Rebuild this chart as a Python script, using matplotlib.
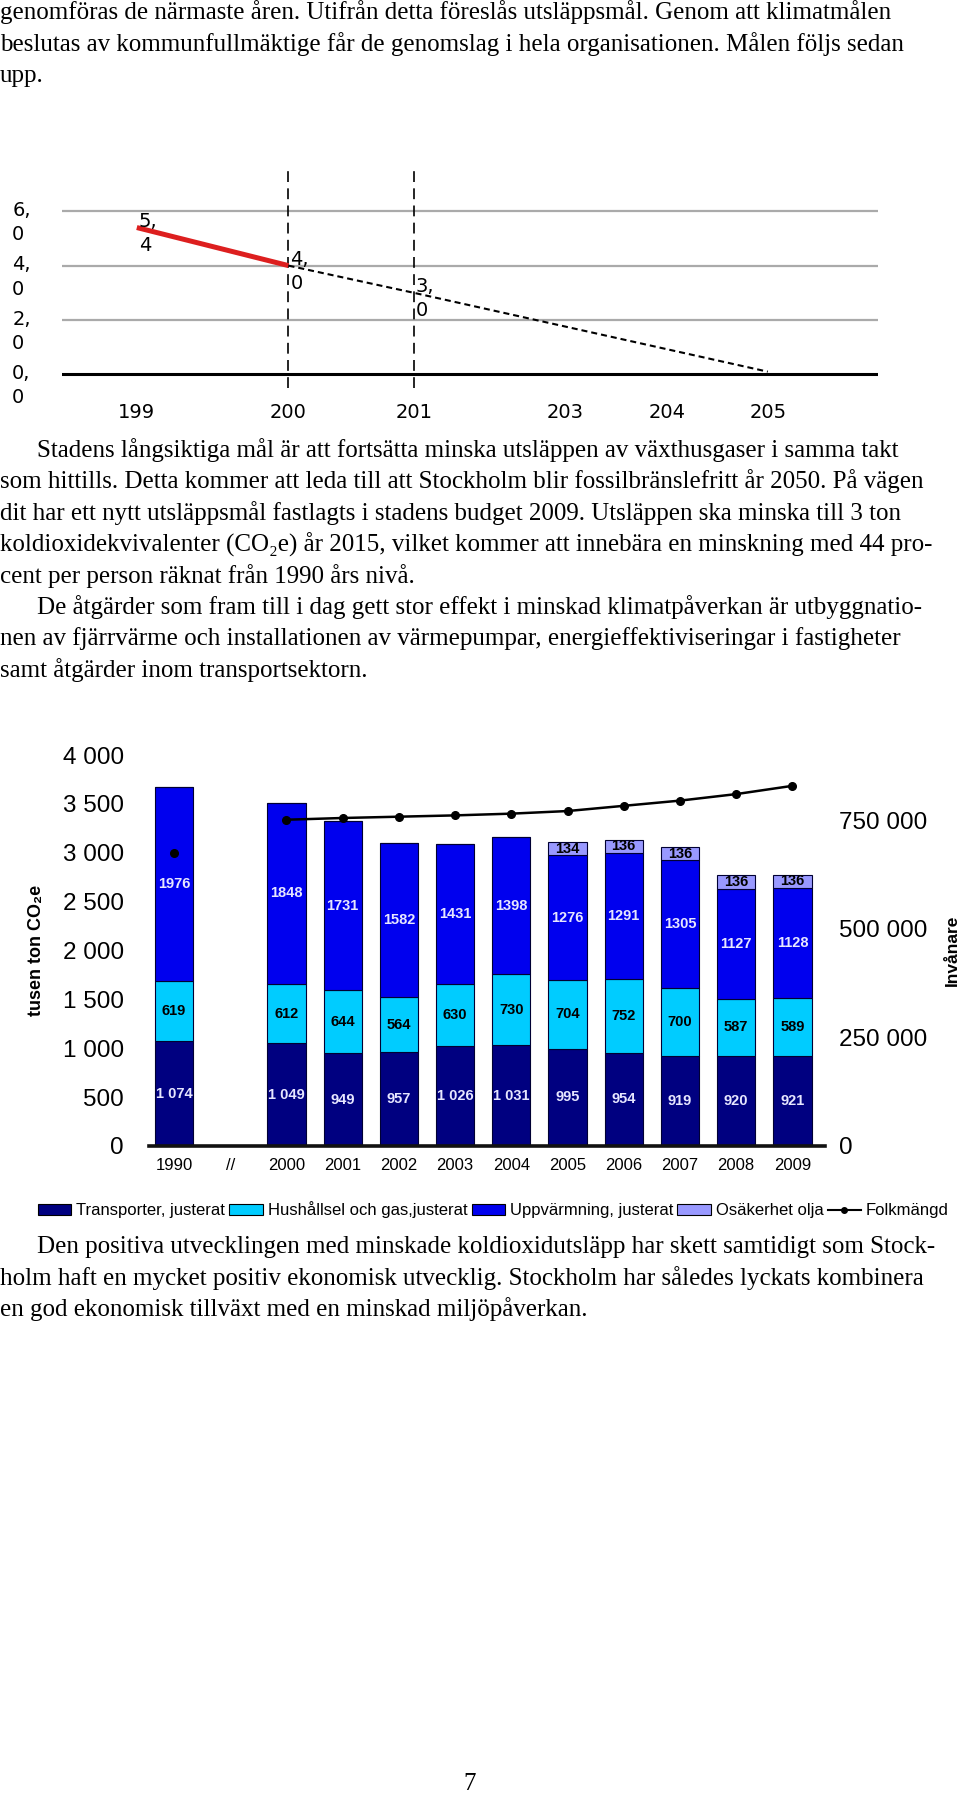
import numpy as np
import matplotlib
matplotlib.use("Agg")
import matplotlib.pyplot as plt
from matplotlib.patches import Patch
from matplotlib.lines import Line2D

W, H = 960, 1795
serif = ["Liberation Serif", "DejaVu Serif"]
sans = ["Liberation Sans", "DejaVu Sans"]
gothic = ["DejaVu Sans"]

# top chart: ton CO2e per person, history and goal
hist_years = [1990, 2005]
hist_vals = [5.4, 4.0]
goal_years = [2005, 2015, 2050]
goal_vals = [4.0, 3.0, 0.1]
label_years = [1990, 2005, 2015]
label_vals = [5.4, 4.0, 3.0]
marked_years = [2005, 2015]
top_ticks_x = [1990, 2005, 2015, 2030, 2040, 2050]
top_ticks_y = [0.0, 2.0, 4.0, 6.0]

# bar chart: tusen ton CO2e per sector, and population
bar_cats = ["1990", "//", "2000", "2001", "2002", "2003", "2004",
            "2005", "2006", "2007", "2008", "2009"]
transport = [1074, None, 1049, 949, 957, 1026, 1031, 995, 954, 919, 920, 921]
hushall = [619, None, 612, 644, 564, 630, 730, 704, 752, 700, 587, 589]
uppvarm = [1976, None, 1848, 1731, 1582, 1431, 1398, 1276, 1291, 1305, 1127, 1128]
osakerhet = [0, None, 0, 0, 0, 0, 0, 134, 136, 136, 136, 136]
folkmangd = [675000, None, 751000, 755000, 758000, 761000, 765000,
             771000, 783000, 795000, 810000, 829000]
left_ticks = [0, 500, 1000, 1500, 2000, 2500, 3000, 3500, 4000]
right_ticks = [0, 250000, 500000, 750000]

series_names = ["Transporter, justerat", "Hushållsel och gas,justerat",
                "Uppvärmning, justerat", "Osäkerhet olja"]
series_colors = ["#000080", "#00CCFF", "#0000EE", "#9999FF"]
label_colors = ["#E6E6FF", "black", "#E6E6FF", "black"]

para1 = ["genomföras de närmaste åren. Utifrån detta föreslås utsläppsmål. Genom att klimatmålen",
         "beslutas av kommunfullmäktige får de genomslag i hela organisationen. Målen följs sedan",
         "upp."]
para2 = ["Stadens långsiktiga mål är att fortsätta minska utsläppen av växthusgaser i samma takt",
         "som hittills. Detta kommer att leda till att Stockholm blir fossilbränslefritt år 2050. På vägen",
         "dit har ett nytt utsläppsmål fastlagts i stadens budget 2009. Utsläppen ska minska till 3 ton",
         "koldioxidekvivalenter (CO₂e) år 2015, vilket kommer att innebära en minskning med 44 pro-",
         "cent per person räknat från 1990 års nivå.",
         "De åtgärder som fram till i dag gett stor effekt i minskad klimatpåverkan är utbyggnatio-",
         "nen av fjärrvärme och installationen av värmepumpar, energieffektiviseringar i fastigheter",
         "samt åtgärder inom transportsektorn."]
para2_indent = [1, 0, 0, 0, 0, 1, 0, 0]
para3 = ["Den positiva utvecklingen med minskade koldioxidutsläpp har skett samtidigt som Stock-",
         "holm haft en mycket positiv ekonomisk utvecklig. Stockholm har således lyckats kombinera",
         "en god ekonomisk tillväxt med en minskad miljöpåverkan."]
para3_indent = [1, 0, 0]


def px_axes(l, t, r, b):
    return fig.add_axes([l / W, 1 - b / H, (r - l) / W, (b - t) / H])


fig = plt.figure(figsize=(W / 100, H / 100), dpi=100)
fig.patch.set_facecolor("white")

page = fig.add_axes([0, 0, 1, 1])
page.set_xlim(0, W)
page.set_ylim(H, 0)
page.axis("off")

# fit the body font size to the widest line
r = fig.canvas.get_renderer()
probe = page.text(0, 0, para2[1], fontsize=20, family=serif)
body_size = 20 * 923 / probe.get_window_extent(renderer=r).width
probe.remove()


def write(lines, y0, indents=None, pitch=31.5):
    for k, line in enumerate(lines):
        x = 37 if indents and indents[k] else 0
        page.text(x, y0 + k * pitch + 6, line, fontsize=body_size, family=serif,
                  ha="left", va="baseline", color="black")


write(para1, 13)
write(para2, 451, para2_indent, 31.4)
write(para3, 1247, para3_indent, 31.5)
page.text(470, 1790, "7", fontsize=body_size, family=serif, ha="center", va="baseline")

# ---------------- top chart
def fwd(x):
    x = np.asarray(x, float)
    return x + 0.24 * np.clip(x - 2005, 0, 10)


def inv(u):
    u = np.asarray(u, float)
    return np.where(u <= 2005, u, np.where(u <= 2017.4, 2005 + (u - 2005) / 1.24, u - 2.4))


ax1 = px_axes(62, 165, 878, 388)
ax1.set_xscale("function", functions=(fwd, inv))
ax1.set_xlim(1982.6, 2060.9)
ax1.set_ylim(-0.5, 7.7)
for s in ax1.spines.values():
    s.set_visible(False)
for v in top_ticks_y:
    if v == 0:
        ax1.axhline(v, color="black", lw=2.2, zorder=1)
    else:
        ax1.axhline(v, color="#AAAAAA", lw=1.6, zorder=1)
    ax1.text(-0.061, v - 0.42, f"{v:.1f}".replace(".", ",\n"), transform=ax1.get_yaxis_transform(),
             ha="left", va="center", fontsize=14, family=gothic, linespacing=1.35)
for yr in marked_years:
    ax1.axvline(yr, color="black", lw=1.2, ls=(0, (6.5, 3.8)), zorder=2)
ax1.plot(hist_years, hist_vals, color="#DD1F1F", lw=3.6, solid_capstyle="butt", zorder=3)
ax1.plot(goal_years, goal_vals, color="black", lw=1.5, ls=(0, (2.9, 1.9)), zorder=3)
for yr, v in zip(label_years, label_vals):
    ax1.annotate(f"{v:.1f}".replace(".", ",\n"), (yr, v), xytext=(2, -6), textcoords="offset pixels",
                 ha="left", va="center", fontsize=14, family=gothic, linespacing=1.35, zorder=4)
ax1.set_yticks([])
ax1.set_xticks(top_ticks_x, [str(y)[:3] for y in top_ticks_x])
ax1.tick_params(axis="x", length=0, pad=11)
for lbl in ax1.get_xticklabels():
    lbl.set_fontsize(14)
    lbl.set_family(gothic)

# ---------------- bar chart
ax = px_axes(149, 755, 825, 1146)
ax.set_xlim(-0.445, 11.58)
ax.set_ylim(0, 4000)
for s in ["top", "left", "right"]:
    ax.spines[s].set_visible(False)
ax.spines["bottom"].set_linewidth(2.6)
ax.spines["bottom"].set_color("#111111")
ax.spines["bottom"].set_zorder(5)

idx = [i for i in range(len(bar_cats)) if transport[i] is not None]
bottom = np.zeros(len(idx))
for vals, col, lcol, k in zip([transport, hushall, uppvarm, osakerhet], series_colors,
                              label_colors, range(4)):
    v = np.array([vals[i] for i in idx], float)
    ax.bar(idx, v, 0.68, bottom=bottom, color=col, edgecolor="#000033", lw=0.8, zorder=2)
    for x, b, h in zip(idx, bottom, v):
        if h <= 0:
            continue
        txt = f"{int(h):,}".replace(",", " ") if k == 0 else str(int(h))
        ax.text(x, b + h / 2, txt, ha="center", va="center", fontsize=10.5,
                fontweight="bold", family=sans, color=lcol, zorder=4)
    bottom = bottom + v

ax.set_xticks(range(len(bar_cats)), bar_cats)
ax.set_yticks(left_ticks, [f"{t:,}".replace(",", " ") for t in left_ticks])
ax.tick_params(axis="x", length=0, pad=9, labelsize=12)
ax.tick_params(axis="y", length=0, pad=18, labelsize=17.5)
for lbl in ax.get_xticklabels() + ax.get_yticklabels():
    lbl.set_family(sans)

ax2 = ax.twinx()
ax2.set_ylim(0, 900000)
for s in ax2.spines.values():
    s.set_visible(False)
pop = np.array([np.nan if p is None else p for p in folkmangd], float)
ax2.plot(range(len(bar_cats)), pop, color="black", lw=1.8, marker="o", ms=5.5, zorder=3)
ax2.set_yticks(right_ticks, [f"{t:,}".replace(",", " ") for t in right_ticks])
ax2.tick_params(axis="y", length=0, pad=10, labelsize=17.5)
for lbl in ax2.get_yticklabels():
    lbl.set_family(sans)

page.text(37, 950, "tusen ton CO₂e", rotation=90, ha="center", va="center",
          fontsize=13, fontweight="bold", family=sans)
page.text(952, 950, "Invånare", rotation=90, ha="center", va="center",
          fontsize=12.5, fontweight="bold", family=sans)

handles = [Patch(facecolor=c, edgecolor="black", lw=0.8) for c in series_colors]
handles.append(Line2D([], [], color="black", lw=1.5, marker="o", ms=4))
fig.legend(handles, series_names + ["Folkmängd"], loc="center",
           bbox_to_anchor=(493.5 / W, 1 - 1210 / H), ncol=5, frameon=False,
           prop={"family": sans, "size": 12}, handlelength=2.0, handleheight=0.6,
           handletextpad=0.3, columnspacing=0.25, borderpad=0, borderaxespad=0)

fig.savefig("out.png", dpi=100)
